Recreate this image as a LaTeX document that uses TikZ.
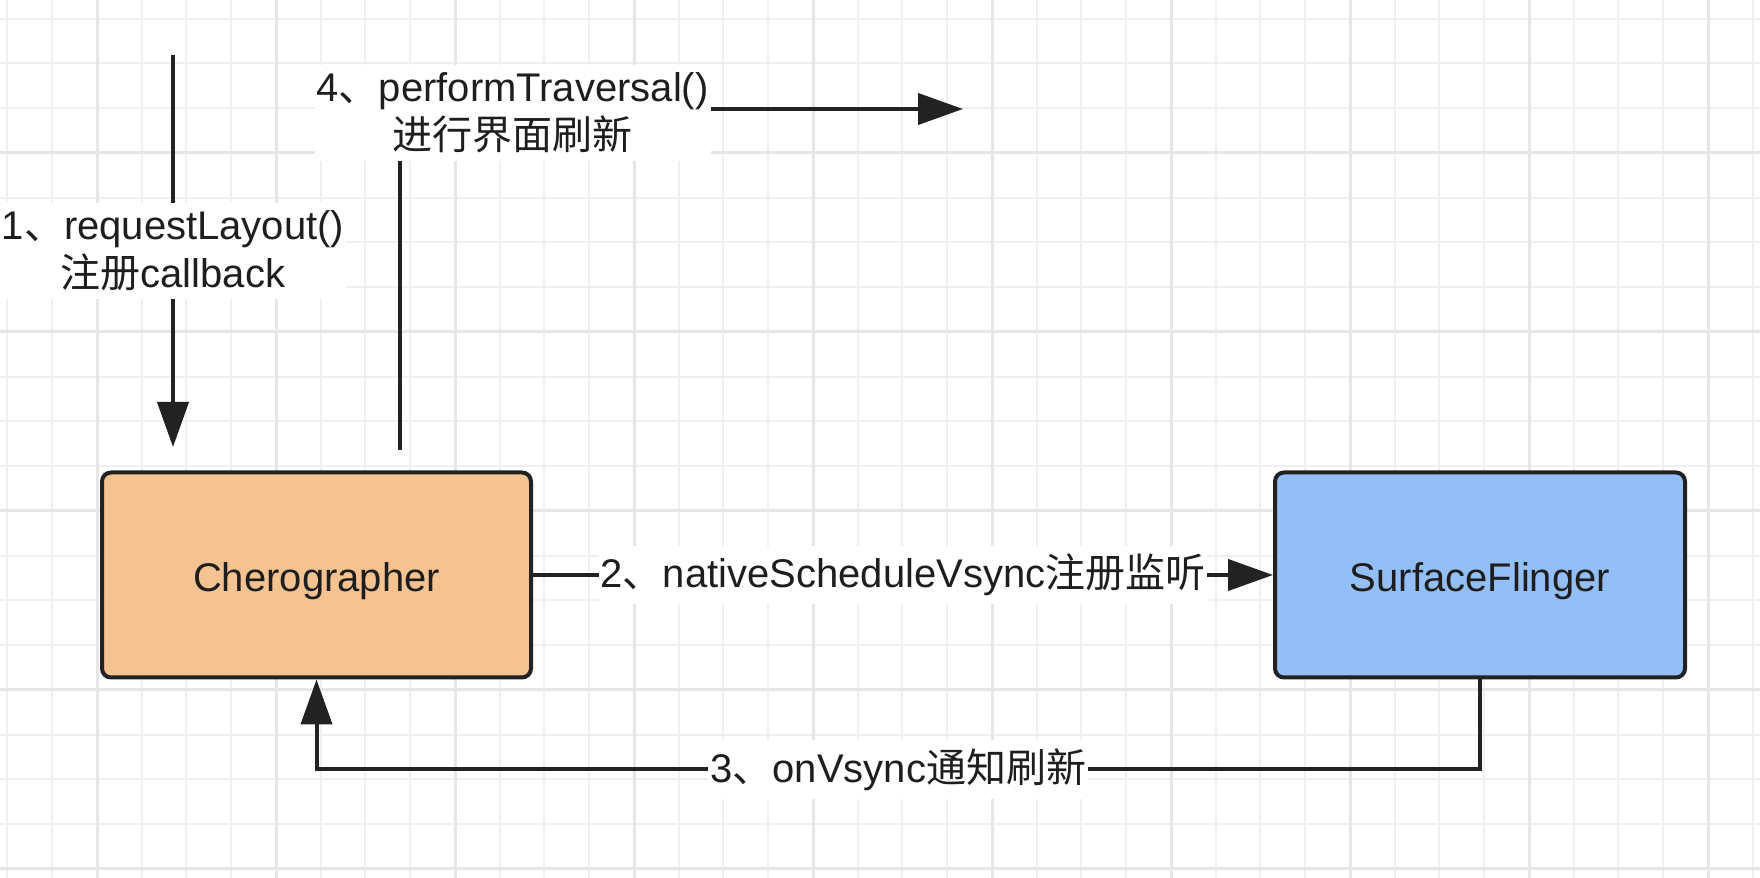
\documentclass[tikz,border=0pt]{standalone}
\usepackage{fontspec}
\setmainfont{Liberation Sans}
\newfontfamily\cjk{Noto Sans CJK SC}
\usetikzlibrary{arrows.meta}
\definecolor{boxline}{HTML}{222222}
\definecolor{txt}{HTML}{1E1E1E}
\definecolor{cherfill}{HTML}{F5C391}
\definecolor{sffill}{HTML}{93BEF6}
\definecolor{gridminor}{HTML}{F0F0F0}
\definecolor{gridmajor}{HTML}{E6E6E6}

\begin{document}
\begin{tikzpicture}[
	box/.style = {rectangle, rounded corners=0.09cm, draw=boxline, line width=0.04cm, minimum height=2.05cm, text=txt, text height=0.33cm, text depth=0cm},
	lbl/.style = {fill=white, text=txt, align=center, inner xsep=0.02cm, inner ysep=0.08cm},
	arr/.style = {-{Triangle[length=0.45cm,width=0.31cm]}, line width=0.04cm, draw=boxline},
	minor/.style = {draw=gridminor, line width=0.02cm},
	major/.style = {draw=gridmajor, line width=0.03cm},
	font=\fontsize{11.38pt}{13.66pt}\selectfont]
	\useasboundingbox (0,0) rectangle (17.6,-8.78);
	\fill[white] (0,0) rectangle (17.6,-8.78);
	% grid
	\foreach \i in {0,...,39} \draw[minor] ({0.075+0.4475*\i},0) -- ({0.075+0.4475*\i},-8.78);
	\foreach \j in {0,...,19} \draw[minor] (0,{-0.1875-0.4475*\j}) -- (17.6,{-0.1875-0.4475*\j});
	\foreach \i in {0,...,9} \draw[major] ({0.97+1.79*\i},0) -- ({0.97+1.79*\i},-8.78);
	\foreach \j in {0,...,4} \draw[major] (0,{-1.53-1.79*\j}) -- (17.6,{-1.53-1.79*\j});
	% boxes
	\node (cher) at (3.165,-5.75) [box, fill=cherfill, minimum width=4.29cm] {Cherographer};
	\node (sf) at (14.80,-5.75) [box, fill=sffill, minimum width=4.10cm] {SurfaceFlinger};
	\coordinate (a1s) at (1.73,-0.55);
	\coordinate (a1e) at (1.73,-4.47);
	\coordinate (a4s) at (4.00,-4.50);
	\coordinate (a4e) at (9.63,-1.09);
	% arrows
	\draw[arr] (a1s) -- (a1e) node [lbl, midway] {1{\cjk 、}requestLayout()\\{\cjk 注册}callback};
	\draw[arr] (cher) -- (sf) node [lbl, midway] {2{\cjk 、}nativeScheduleVsync{\cjk 注册监听}};
	\draw[arr] (sf.south) -- ++(0,-0.9) -| node [lbl, pos=0.25] {3{\cjk 、}onVsync{\cjk 通知刷新}} (cher.south);
	\draw[arr] (a4s) |- node [lbl, pos=0.6, yshift=-0.04cm] {4{\cjk 、}performTraversal()\\{\cjk 进行界面刷新}} (a4e);
\end{tikzpicture}
\end{document}
